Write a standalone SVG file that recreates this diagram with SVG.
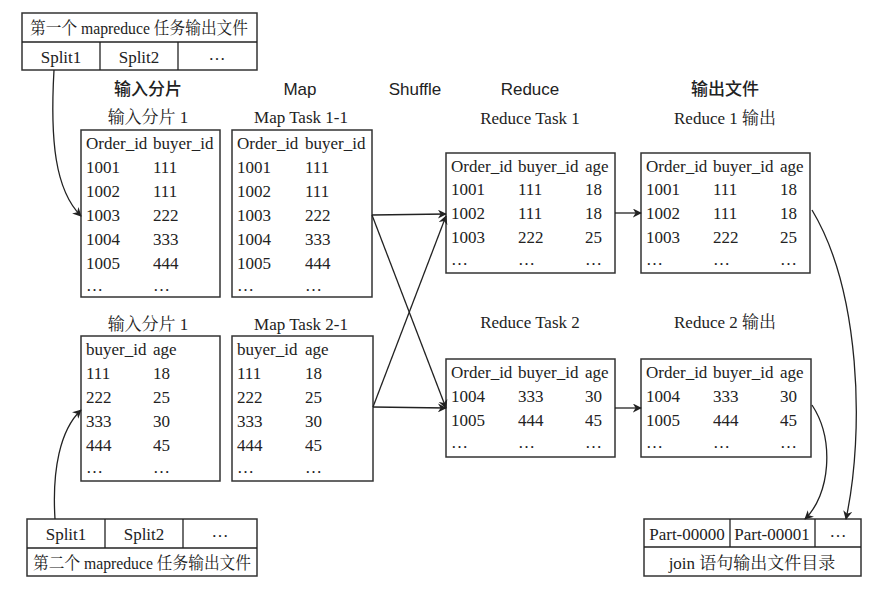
<svg xmlns="http://www.w3.org/2000/svg" width="883" height="591" viewBox="0 0 883 591">
<style>
.b{fill:#fff;stroke:#333;stroke-width:1.5}
.t{font-family:"Liberation Serif","Noto Serif CJK SC","Noto Sans CJK SC",serif;font-size:17px;fill:#222}
.h{font-family:"Liberation Sans","Noto Sans CJK SC",sans-serif;font-size:17px;fill:#222;text-anchor:middle;font-weight:500}
.c{text-anchor:middle}
.l{fill:none;stroke:#222;stroke-width:1.3}
</style>
<defs><marker id="a" viewBox="0 0 10 10" refX="9" refY="5" markerWidth="9" markerHeight="9" orient="auto" markerUnits="userSpaceOnUse"><path d="M0,0L10,5L0,10L3,5z" fill="#222"/></marker></defs>
<rect width="883" height="591" fill="#fff"/>
<g id="file1"><rect class="b" x="22" y="13" width="235" height="57"/><line class="l" x1="22" y1="42" x2="257" y2="42"/><line class="l" x1="100" y1="42" x2="100" y2="70"/><line class="l" x1="178" y1="42" x2="178" y2="70"/>
<text class="t" x="30" y="34" textLength="218" lengthAdjust="spacingAndGlyphs">第一个 mapreduce 任务输出文件</text><text class="t c" x="61" y="63">Split1</text><text class="t c" x="217" y="60">…</text><text class="t c" x="139" y="63">Split2</text></g>
<g id="headers"><text class="h" x="148" y="95">输入分片</text><text class="h" x="300" y="95">Map</text><text class="h" x="415" y="95">Shuffle</text><text class="h" x="530" y="95">Reduce</text><text class="h" x="725" y="95">输出文件</text></g>
<g id="in1"><text class="t c" x="148" y="123">输入分片 1</text><rect class="b" x="81" y="130" width="139" height="167"/>
<text class="t" x="86" y="149">Order_id</text><text class="t" x="153" y="149">buyer_id</text>
<text class="t" x="86" y="173">1001</text><text class="t" x="153" y="173">111</text>
<text class="t" x="86" y="197">1002</text><text class="t" x="153" y="197">111</text>
<text class="t" x="86" y="221">1003</text><text class="t" x="153" y="221">222</text>
<text class="t" x="86" y="245">1004</text><text class="t" x="153" y="245">333</text>
<text class="t" x="86" y="269">1005</text><text class="t" x="153" y="269">444</text>
<text class="t" x="86" y="291">…</text><text class="t" x="153" y="291">…</text></g>
<g id="map1"><text class="t c" x="301" y="123">Map Task 1-1</text><rect class="b" x="232" y="130" width="140" height="167"/>
<text class="t" x="237" y="149">Order_id</text><text class="t" x="305" y="149">buyer_id</text>
<text class="t" x="237" y="173">1001</text><text class="t" x="305" y="173">111</text>
<text class="t" x="237" y="197">1002</text><text class="t" x="305" y="197">111</text>
<text class="t" x="237" y="221">1003</text><text class="t" x="305" y="221">222</text>
<text class="t" x="237" y="245">1004</text><text class="t" x="305" y="245">333</text>
<text class="t" x="237" y="269">1005</text><text class="t" x="305" y="269">444</text>
<text class="t" x="237" y="291">…</text><text class="t" x="305" y="291">…</text></g>
<g id="in2"><text class="t c" x="148" y="330">输入分片 1</text><rect class="b" x="81" y="336" width="139" height="145"/>
<text class="t" x="86" y="355">buyer_id</text><text class="t" x="153" y="355">age</text>
<text class="t" x="86" y="379">111</text><text class="t" x="153" y="379">18</text>
<text class="t" x="86" y="403">222</text><text class="t" x="153" y="403">25</text>
<text class="t" x="86" y="427">333</text><text class="t" x="153" y="427">30</text>
<text class="t" x="86" y="451">444</text><text class="t" x="153" y="451">45</text>
<text class="t" x="86" y="473">…</text><text class="t" x="153" y="473">…</text></g>
<g id="map2"><text class="t c" x="301" y="330">Map Task 2-1</text><rect class="b" x="232" y="336" width="141" height="145"/>
<text class="t" x="237" y="355">buyer_id</text><text class="t" x="305" y="355">age</text>
<text class="t" x="237" y="379">111</text><text class="t" x="305" y="379">18</text>
<text class="t" x="237" y="403">222</text><text class="t" x="305" y="403">25</text>
<text class="t" x="237" y="427">333</text><text class="t" x="305" y="427">30</text>
<text class="t" x="237" y="451">444</text><text class="t" x="305" y="451">45</text>
<text class="t" x="237" y="473">…</text><text class="t" x="305" y="473">…</text></g>
<g id="red1"><text class="t c" x="530" y="124">Reduce Task 1</text><rect class="b" x="446" y="153" width="169" height="120"/>
<text class="t" x="451" y="172">Order_id</text><text class="t" x="518" y="172">buyer_id</text><text class="t" x="585" y="172">age</text>
<text class="t" x="451" y="195">1001</text><text class="t" x="518" y="195">111</text><text class="t" x="585" y="195">18</text>
<text class="t" x="451" y="219">1002</text><text class="t" x="518" y="219">111</text><text class="t" x="585" y="219">18</text>
<text class="t" x="451" y="243">1003</text><text class="t" x="518" y="243">222</text><text class="t" x="585" y="243">25</text>
<text class="t" x="451" y="265">…</text><text class="t" x="518" y="265">…</text><text class="t" x="585" y="265">…</text></g>
<g id="out1"><text class="t c" x="725" y="124">Reduce 1 输出</text><rect class="b" x="641" y="153" width="169" height="120"/>
<text class="t" x="646" y="172">Order_id</text><text class="t" x="713" y="172">buyer_id</text><text class="t" x="780" y="172">age</text>
<text class="t" x="646" y="195">1001</text><text class="t" x="713" y="195">111</text><text class="t" x="780" y="195">18</text>
<text class="t" x="646" y="219">1002</text><text class="t" x="713" y="219">111</text><text class="t" x="780" y="219">18</text>
<text class="t" x="646" y="243">1003</text><text class="t" x="713" y="243">222</text><text class="t" x="780" y="243">25</text>
<text class="t" x="646" y="265">…</text><text class="t" x="713" y="265">…</text><text class="t" x="780" y="265">…</text></g>
<g id="red2"><text class="t c" x="530" y="328">Reduce Task 2</text><rect class="b" x="446" y="359" width="169" height="98"/>
<text class="t" x="451" y="378">Order_id</text><text class="t" x="518" y="378">buyer_id</text><text class="t" x="585" y="378">age</text>
<text class="t" x="451" y="402">1004</text><text class="t" x="518" y="402">333</text><text class="t" x="585" y="402">30</text>
<text class="t" x="451" y="426">1005</text><text class="t" x="518" y="426">444</text><text class="t" x="585" y="426">45</text>
<text class="t" x="451" y="448">…</text><text class="t" x="518" y="448">…</text><text class="t" x="585" y="448">…</text></g>
<g id="out2"><text class="t c" x="725" y="328">Reduce 2 输出</text><rect class="b" x="641" y="359" width="170" height="98"/>
<text class="t" x="646" y="378">Order_id</text><text class="t" x="713" y="378">buyer_id</text><text class="t" x="780" y="378">age</text>
<text class="t" x="646" y="402">1004</text><text class="t" x="713" y="402">333</text><text class="t" x="780" y="402">30</text>
<text class="t" x="646" y="426">1005</text><text class="t" x="713" y="426">444</text><text class="t" x="780" y="426">45</text>
<text class="t" x="646" y="448">…</text><text class="t" x="713" y="448">…</text><text class="t" x="780" y="448">…</text></g>
<g id="file2"><rect class="b" x="27" y="519" width="230" height="57"/><line class="l" x1="27" y1="548" x2="257" y2="548"/><line class="l" x1="105" y1="519" x2="105" y2="548"/><line class="l" x1="183" y1="519" x2="183" y2="548"/>
<text class="t c" x="66" y="540">Split1</text><text class="t c" x="144" y="540">Split2</text><text class="t c" x="220" y="537">…</text><text class="t" x="33" y="569" textLength="218" lengthAdjust="spacingAndGlyphs">第二个 mapreduce 任务输出文件</text></g>
<g id="result"><rect class="b" x="644" y="519" width="217" height="57"/><line class="l" x1="644" y1="547" x2="861" y2="547"/><line class="l" x1="730" y1="519" x2="730" y2="547"/><line class="l" x1="815" y1="519" x2="815" y2="547"/>
<text class="t c" x="687" y="540">Part-00000</text><text class="t c" x="772" y="540">Part-00001</text><text class="t c" x="838" y="537">…</text><text class="t c" x="752" y="569">join 语句输出文件目录</text></g>
<g id="connectors">
<path class="l" d="M54,70 C50,140 55,190 81,216" marker-end="url(#a)"/>
<path class="l" d="M55,519 C52,470 60,430 81,410" marker-end="url(#a)"/>
<path class="l" d="M372,215 L446,214" marker-end="url(#a)"/>
<path class="l" d="M372,215 L446,408" marker-end="url(#a)"/>
<path class="l" d="M373,407 L446,216" marker-end="url(#a)"/>
<path class="l" d="M373,407 L446,408" marker-end="url(#a)"/>
<path class="l" d="M615,213 L641,213" marker-end="url(#a)"/>
<path class="l" d="M615,408 L641,408" marker-end="url(#a)"/>
<path class="l" d="M812,405 C835,440 830,495 805,519" marker-end="url(#a)"/>
<path class="l" d="M812,210 C860,290 865,430 846,519" marker-end="url(#a)"/>
</g>
</svg>
